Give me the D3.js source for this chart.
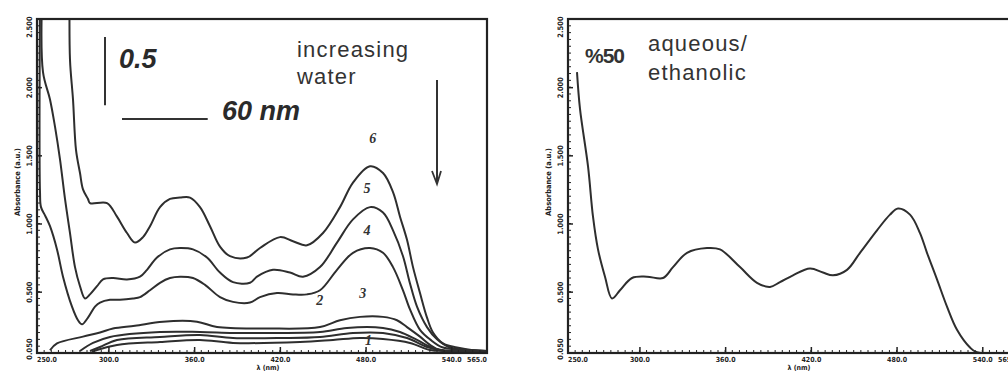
<!DOCTYPE html>
<html>
<head>
<meta charset="utf-8">
<script src="https://cdn.jsdelivr.net/npm/d3@7"></script>
<style>
  html, body { margin: 0; padding: 0; background: #fff; overflow: hidden; }
  svg { display: block; }
</style>
</head>
<body>
<svg id="chart" width="1008" height="372"></svg>
<script>
// ---- Spectra: [wavelength (nm), absorbance] ----
// Titration series, water content increasing from run6 down to run0
const run6 = [[272.8,2.65],[273.1,2.20],[275.2,1.91],[277.3,1.54],[280.1,1.37],[282.2,1.25],[285.7,1.18],[287.1,1.15],[299,1.15],[306,1.05],[313,0.93],[318.6,0.86],[324.2,0.90],[329.1,0.98],[336.1,1.12],[343.1,1.18],[350.1,1.19],[357.1,1.19],[364.1,1.12],[371.1,0.98],[378.1,0.83],[385.1,0.76],[397,0.75],[406.1,0.82],[420.1,0.90],[429.2,0.87],[439,0.84],[450.2,0.93],[462.1,1.12],[471.2,1.30],[483.1,1.42],[492.2,1.37],[499.2,1.23],[504.1,1.05],[509,0.88],[513.2,0.68],[518.1,0.49],[523,0.31],[527.2,0.20],[534.2,0.12],[544,0.09],[555.2,0.07],[565,0.065]];
const run5 = [[253.5,2.65],[254.2,2.11],[259.1,1.91],[262.6,1.71],[266.1,1.47],[269.6,1.18],[273.1,0.93],[276.6,0.68],[280.1,0.54],[283.6,0.45],[287.1,0.48],[292,0.54],[296.2,0.59],[303.2,0.60],[313,0.59],[322.1,0.61],[327,0.66],[334,0.75],[343.1,0.81],[350.1,0.82],[359.2,0.81],[369,0.75],[378.1,0.64],[387.2,0.57],[399.1,0.565],[404,0.61],[415.2,0.66],[427.1,0.64],[436.2,0.61],[448.1,0.68],[460,0.86],[471.2,1.03],[483.1,1.12],[492.2,1.08],[499.2,0.95],[506.2,0.76],[511.1,0.56],[516,0.39],[523,0.24],[530,0.15],[539.1,0.09],[555.2,0.07],[565,0.065]];
const run4 = [[252.1,2.65],[252.1,1.23],[252.8,1.12],[255.6,1.06],[259.1,0.98],[264,0.81],[268.2,0.61],[274.5,0.39],[278.7,0.29],[281.5,0.26],[285.7,0.31],[290.6,0.39],[294.1,0.42],[301.1,0.44],[308.1,0.44],[317.2,0.45],[322.1,0.46],[329.1,0.51],[336.1,0.565],[343.1,0.60],[350.1,0.61],[359.2,0.60],[367.6,0.55],[378.1,0.46],[387.2,0.425],[399.1,0.42],[406.1,0.46],[418,0.49],[429.2,0.48],[439,0.48],[448.1,0.51],[460,0.66],[471.2,0.785],[483.1,0.82],[492.2,0.785],[499.2,0.68],[506.2,0.51],[511.1,0.37],[518.1,0.22],[525.1,0.15],[534.2,0.09],[555.2,0.07],[565,0.065]];
const run3 = [[259.1,0.07],[264,0.12],[282.2,0.17],[294.1,0.20],[303.2,0.23],[318.6,0.25],[338.2,0.28],[362,0.28],[376,0.24],[411,0.23],[448.1,0.24],[462.1,0.29],[476.1,0.315],[492.2,0.315],[502,0.29],[509,0.24],[518.1,0.17],[525.1,0.11],[532.1,0.07],[546.1,0.065],[565,0.065]];
const run2 = [[280.1,0.065],[289.2,0.124],[301.1,0.168],[336.1,0.204],[364.1,0.204],[387.2,0.197],[411,0.197],[448.1,0.204],[467,0.234],[492.2,0.234],[504.1,0.204],[516,0.146],[527.2,0.087],[539.1,0.065],[565,0.065]];
const run1 = [[287.1,0.065],[294.1,0.094],[306,0.146],[336.1,0.168],[364.1,0.182],[387.2,0.16],[422.2,0.16],[448.1,0.168],[471.2,0.197],[492.2,0.197],[509,0.16],[523,0.094],[535.6,0.065],[565,0.065]];
const run0 = [[288.5,0.057],[292,0.072],[306,0.109],[336.1,0.131],[364.1,0.146],[387.2,0.124],[434.1,0.131],[457.2,0.146],[476.1,0.16],[492.2,0.153],[511.1,0.124],[525.1,0.072],[535.6,0.065],[565,0.065]];

// 50 % aqueous/ethanolic solution
const mixed = [[256.3,2.11],[258.4,1.84],[264,1.42],[267.5,1.05],[271,0.81],[275.9,0.61],[280.8,0.45],[286.4,0.51],[294.8,0.60],[305.3,0.61],[316.5,0.60],[323.5,0.68],[333.3,0.785],[347.3,0.82],[356.4,0.81],[370.4,0.68],[382.3,0.565],[391.4,0.535],[398.4,0.57],[407.5,0.62],[419.4,0.67],[428.5,0.64],[435.5,0.62],[445.3,0.66],[454.4,0.785],[466.3,0.95],[475.4,1.065],[481,1.11],[489.4,1.065],[496.4,0.93],[501.3,0.785],[508.3,0.59],[515.3,0.39],[522.3,0.22],[531.4,0.09],[536.3,0.055],[565,0.055]];

// ---- Axes ----
const xDomain = [250, 565];
const xTicks = [300, 360, 420, 480, 540];
const yDomain = [0.05, 2.5];
const yTicks = [0.5, 1.0, 1.5, 2.0];
const yTitle = "Absorbance (a.u.)";
const xTitle = "λ (nm)";

// ---- Annotations ----
const scaleBarAbs = 0.5;
const scaleBarNm = 60;
const noteLeft = ["increasing", "water"];
const noteRight = ["aqueous/", "ethanolic"];
const mixLabel = "%50";
const runLabels = ["6", "5", "4", "3", "2", "1"];

// ---- Drawing ----
const svg = d3.select("#chart");
const TOP = 19, BOTTOM = 353, PW = 450;
const ink = "#222";
const fmtX = d3.format(".1f");
const fmtY = d3.format(".3f");
const tickFont = "'Liberation Sans Narrow','DejaVu Sans Condensed',sans-serif";

function panel(left, runs, id) {
  const x = d3.scaleLinear().domain(xDomain).range([left, left + PW]);
  const y = d3.scaleLinear().domain(yDomain).range([BOTTOM, TOP]);
  const g = svg.append("g");

  g.append("clipPath").attr("id", id)
    .append("rect").attr("x", left).attr("y", TOP)
    .attr("width", PW).attr("height", BOTTOM - TOP);

  // spectra
  const line = d3.line().x(d => x(d[0])).y(d => y(d[1]))
    .curve(d3.curveCatmullRom.alpha(0.5));
  g.append("g").attr("clip-path", `url(#${id})`)
    .selectAll("path").data(runs).join("path")
    .attr("d", line).attr("fill", "none")
    .attr("stroke", "#2e2e2e").attr("stroke-width", 2)
    .attr("stroke-linejoin", "round");

  // minor ticks along bottom and left edges
  const minorX = d3.range(xDomain[0] + 5, xDomain[1], 5);
  g.append("g").selectAll("line").data(minorX).join("line")
    .attr("x1", d => x(d)).attr("x2", d => x(d))
    .attr("y1", BOTTOM).attr("y2", BOTTOM - 3)
    .attr("stroke", ink).attr("stroke-width", 1);
  const minorY = d3.range(0.1, yDomain[1], 0.05);
  g.append("g").selectAll("line").data(minorY).join("line")
    .attr("x1", left).attr("x2", left + 3)
    .attr("y1", d => y(d)).attr("y2", d => y(d))
    .attr("stroke", ink).attr("stroke-width", 1);

  // bottom axis
  const ax = g.append("g").attr("transform", `translate(0,${BOTTOM})`)
    .call(d3.axisBottom(x).tickValues(xTicks).tickSize(-6).tickPadding(4).tickFormat(fmtX));
  ax.select(".domain").remove();
  ax.selectAll("line").attr("stroke", ink).attr("stroke-width", 1.5);
  ax.selectAll("text").attr("font-size", 7).attr("font-weight", "bold")
    .attr("font-family", tickFont).attr("fill", ink);
  // edge labels of the wavelength range
  [[xDomain[0], "start"], [xDomain[1], "end"]].forEach(([v, anchor]) => {
    g.append("text").attr("x", x(v)).attr("y", BOTTOM + 4).attr("dy", "0.71em")
      .attr("text-anchor", anchor).attr("font-size", 7).attr("font-weight", "bold")
      .attr("font-family", tickFont).attr("fill", ink).text(fmtX(v));
  });

  // left axis
  const ay = g.append("g").attr("transform", `translate(${left},0)`)
    .call(d3.axisLeft(y).tickValues(yTicks).tickSize(-5).tickFormat(fmtY));
  ay.select(".domain").remove();
  ay.selectAll("line").attr("stroke", ink).attr("stroke-width", 1.5);
  ay.selectAll("text").attr("x", 0).attr("dy", 0)
    .attr("transform", "translate(-5,0) rotate(-90)")
    .attr("text-anchor", "middle").attr("font-size", 7.5).attr("font-weight", "bold")
    .attr("font-family", tickFont).attr("fill", ink);
  [[yDomain[0], -4], [yDomain[1], 8]].forEach(([v, shift]) => {
    g.append("text")
      .attr("transform", `translate(${left - 5},${y(v) + shift}) rotate(-90)`)
      .attr("text-anchor", "middle").attr("font-size", 7.5).attr("font-weight", "bold")
      .attr("font-family", tickFont).attr("fill", ink).text(fmtY(v));
  });

  // axis titles
  g.append("text")
    .attr("transform", `translate(${left - 17},${(TOP + BOTTOM) / 2 - 4}) rotate(-90)`)
    .attr("text-anchor", "middle").attr("font-size", 7.5).attr("font-weight", "bold")
    .attr("font-family", tickFont).attr("fill", ink).text(yTitle);
  g.append("text").attr("x", left + PW / 2 + 6).attr("y", 370)
    .attr("text-anchor", "middle").attr("font-size", 7).attr("font-weight", "bold")
    .attr("font-family", tickFont).attr("fill", ink).text(xTitle);

  // frame
  g.append("rect").attr("x", left).attr("y", TOP)
    .attr("width", PW).attr("height", BOTTOM - TOP)
    .attr("fill", "none").attr("stroke", ink).attr("stroke-width", 2.2);

  return { x, y, g };
}

// left panel: water titration
const L = panel(37, [run6, run5, run4, run3, run2, run1, run0], "clipL");

// scale bars drawn from the panel scales
const barTop = 37;
L.g.append("line")
  .attr("x1", 105).attr("x2", 105)
  .attr("y1", barTop).attr("y2", barTop + (L.y(0) - L.y(scaleBarAbs)))
  .attr("stroke", "#333").attr("stroke-width", 2);
L.g.append("text").attr("x", 119).attr("y", 68)
  .attr("font-family", "'Liberation Sans',Arial,sans-serif")
  .attr("font-size", 27).attr("font-weight", "bold").attr("font-style", "italic")
  .attr("fill", "#2a2a2a").text(scaleBarAbs);
L.g.append("line")
  .attr("x1", 122).attr("x2", 122 + (L.x(xDomain[0] + scaleBarNm) - L.x(xDomain[0])))
  .attr("y1", 119).attr("y2", 119)
  .attr("stroke", "#333").attr("stroke-width", 2);
L.g.append("text").attr("x", 222).attr("y", 120)
  .attr("font-family", "'Liberation Sans',Arial,sans-serif")
  .attr("font-size", 27).attr("font-weight", "bold").attr("font-style", "italic")
  .attr("fill", "#2a2a2a").text(`${scaleBarNm} nm`);

// "increasing water" note with downward arrow
L.g.append("text").attr("x", 297).attr("y", 57)
  .attr("font-family", "'Liberation Sans',Arial,sans-serif").attr("font-size", 22)
  .attr("letter-spacing", 1.2).attr("fill", "#333").text(noteLeft[0]);
L.g.append("text").attr("x", 297).attr("y", 84)
  .attr("font-family", "'Liberation Sans',Arial,sans-serif").attr("font-size", 22)
  .attr("letter-spacing", 1.2).attr("fill", "#333").text(noteLeft[1]);
L.g.append("line").attr("x1", 437).attr("x2", 437).attr("y1", 80).attr("y2", 183)
  .attr("stroke", "#333").attr("stroke-width", 2);
L.g.append("path").attr("d", "M432,171 L437,184 L441,171")
  .attr("fill", "none").attr("stroke", "#333").attr("stroke-width", 1.8);

// run numbers beside the spectra
const labelAt = [[485, 1.63], [481, 1.26], [481, 0.95], [478, 0.49], [448, 0.44], [482, 0.145]];
runLabels.forEach((t, i) => {
  L.g.append("text").attr("x", L.x(labelAt[i][0])).attr("y", L.y(labelAt[i][1]))
    .attr("dy", "0.35em").attr("text-anchor", "middle")
    .attr("font-family", "'Liberation Serif',serif").attr("font-size", 14)
    .attr("font-weight", "bold").attr("font-style", "italic")
    .attr("fill", "#333").text(t);
});

// right panel: mixed solvent
const R = panel(568, [mixed], "clipR");
R.g.append("text").attr("x", 585).attr("y", 63)
  .attr("font-family", "'Liberation Sans',Arial,sans-serif").attr("font-size", 21)
  .attr("font-weight", "bold").attr("letter-spacing", -1).attr("fill", "#333").text(mixLabel);
R.g.append("text").attr("x", 648).attr("y", 51)
  .attr("font-family", "'Liberation Sans',Arial,sans-serif").attr("font-size", 22)
  .attr("letter-spacing", 1.2).attr("fill", "#333").text(noteRight[0]);
R.g.append("text").attr("x", 648).attr("y", 80)
  .attr("font-family", "'Liberation Sans',Arial,sans-serif").attr("font-size", 22)
  .attr("letter-spacing", 1.2).attr("fill", "#333").text(noteRight[1]);
</script>
</body>
</html>
